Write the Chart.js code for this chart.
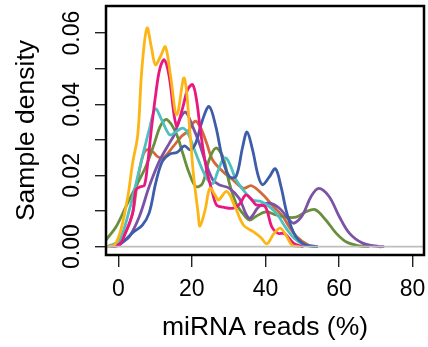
<!DOCTYPE html>
<html>
<head>
<meta charset="utf-8">
<script src="https://cdn.jsdelivr.net/npm/chart.js@4.4.1/dist/chart.umd.min.js"></script>
<style>
  html, body { margin: 0; padding: 0; background: #fff; }
  #wrap { width: 428px; height: 347px; }
</style>
</head>
<body>
<div id="wrap"><canvas id="chart" width="428" height="347"></canvas></div>
<script>
/* ── Data: density curves, [miRNA reads %, density] ── */
const yellow = [[-3,0],[-1,0.0005],[0.7,0.0047],[2.6,0.0141],[3.9,0.0235],[5.3,0.0315],[6.4,0.0497],[7.8,0.0614],[9,0.056],[10.1,0.0511],[11.5,0.0535],[12.8,0.0561],[14.2,0.048],[15.9,0.037],[17.9,0.0474],[19.5,0.0319],[20.4,0.0206],[21.7,0.0094],[22.2,0.0058],[23.6,0.0103],[24.9,0.0164],[26.3,0.0145],[27.2,0.0131],[29.5,0.0155],[31.7,0.0113],[34,0.0061],[36.7,0.0042],[38.8,0.0025],[40.4,0.0008],[42.2,0.0035],[44,0.0052],[45.7,0.003],[47.2,0.0004],[49,0]];
const magenta = [[-3,0],[0.3,0.0005],[2,0.004],[3.9,0.0094],[4.8,0.016],[6,0.0168],[7.1,0.0172],[8,0.0235],[9,0.033],[10.2,0.043],[11.3,0.05],[12.5,0.0525],[13.8,0.048],[15.8,0.034],[17.5,0.039],[18.8,0.044],[20.2,0.0455],[21.3,0.041],[22.4,0.032],[24,0.0216],[25.4,0.016],[26.7,0.0117],[28.5,0.0111],[31.3,0.0108],[33,0.012],[34.6,0.0145],[36,0.0135],[37.4,0.0118],[39.9,0.0113],[41.7,0.0056],[43.3,0.0038],[45.3,0.0036],[47.6,0.001],[50,0]];
const teal = [[-3,0],[0.3,0.0019],[3,0.0103],[5.7,0.0216],[8.4,0.0328],[10.1,0.0387],[11.8,0.0356],[14,0.0314],[15.7,0.0323],[17.5,0.0333],[18.9,0.0319],[20.7,0.0272],[22.5,0.0225],[24.3,0.0188],[25.7,0.0178],[27,0.021],[28.4,0.0244],[29.3,0.0249],[30.6,0.0225],[32,0.0188],[34.7,0.015],[36.5,0.0131],[38.8,0.0127],[41,0.0113],[43.3,0.0089],[45.6,0.0052],[47.8,0.0024],[50.5,0.0005],[53,0]];
const green = [[-3.3,0.0019],[-0.6,0.0056],[2.1,0.0113],[4.8,0.0169],[7.5,0.0225],[9.8,0.029],[11.5,0.034],[13.2,0.0357],[15.7,0.0319],[17.5,0.0263],[19.3,0.0206],[21.1,0.0169],[22.9,0.0178],[24.7,0.0244],[26.5,0.0277],[28.4,0.0253],[30.2,0.0178],[32,0.0122],[33.8,0.0094],[35.6,0.0075],[37.4,0.0085],[40.1,0.0098],[42.9,0.0089],[45.6,0.0083],[48.3,0.0083],[51,0.0098],[53.5,0.0104],[56.4,0.0075],[59.2,0.0038],[61.9,0.0014],[65.5,0.0002],[68,0]];
const purple = [[-3,0],[-0.6,0.0005],[1,0.0012],[3,0.0028],[5.7,0.0084],[8.4,0.0169],[11.1,0.0239],[13.9,0.0291],[15.2,0.0314],[16.8,0.036],[18.3,0.0378],[20.2,0.0338],[22,0.0291],[23.8,0.0235],[25.7,0.0188],[27.4,0.0174],[30.2,0.0164],[32.9,0.0135],[34.7,0.0092],[35.8,0.008],[38.3,0.0113],[41,0.0122],[43.8,0.0108],[46.5,0.0075],[47.8,0.0066],[50.1,0.0089],[52.4,0.0141],[54.5,0.0164],[57.3,0.0141],[60.1,0.0084],[62.8,0.0038],[66.4,0.001],[70.9,0],[72,0]];
const blue = [[-3,0],[0,0.0004],[2,0.002],[4,0.004],[6.5,0.006],[8.4,0.0095],[10.2,0.018],[12,0.024],[14,0.026],[16,0.0265],[18,0.0283],[19.5,0.0272],[21,0.029],[22.9,0.0356],[24.7,0.0394],[26.5,0.0338],[28.4,0.0244],[30.2,0.0197],[32,0.0197],[33.8,0.028],[35,0.0322],[36.5,0.0272],[38,0.02],[39.2,0.0174],[41,0.0195],[42.7,0.0219],[44.2,0.017],[45.6,0.0103],[47,0.0055],[48.3,0.0028],[50,0.001],[52,0.0002],[54,0]];
const brown = [[-3,0],[-0.6,0.0005],[2,0.004],[3.9,0.0094],[5.3,0.0188],[6.6,0.0253],[7.7,0.0272],[9.3,0.0267],[10.7,0.0253],[12.2,0.0249],[14.9,0.0281],[17.2,0.031],[19,0.0325],[20.8,0.0352],[22.2,0.0338],[24,0.0291],[25.6,0.0244],[28.4,0.0211],[31.1,0.0188],[34,0.0164],[36.2,0.0171],[39.4,0.0145],[42.1,0.0113],[44.8,0.0084],[46.5,0.0055],[48.5,0.0028],[51.6,0.0005],[54,0]];

const X_RANGE = [-3.34, 83.1];
const Y_RANGE = [-0.00234, 0.0676];
const X_TICKS = [0, 20, 40, 60, 80];
const Y_TICKS = [0, 0.01, 0.02, 0.03, 0.04, 0.05, 0.06];
const Y_LABELS = [0, 0.02, 0.04, 0.06];

const SERIES = [
  { data: yellow,  color: '#FDB515' },
  { data: magenta, color: '#E9177F' },
  { data: blue,    color: '#3D5DAA' },
  { data: teal,    color: '#4EC0C0' },
  { data: purple,  color: '#7C52A6' },
  { data: green,   color: '#6A8F3A' },
  { data: brown,   color: '#D3693A' },
];

const FONT = '"Liberation Sans", Arial, Helvetica, sans-serif';
const toPts = arr => arr.map(([x, y]) => ({ x, y }));

/* ── R-style box, labels and titles ── */
const rFrame = {
  id: 'rFrame',
  afterDraw(chart) {
    const { ctx, chartArea: a, scales: { x, y } } = chart;
    ctx.save();
    ctx.strokeStyle = '#000';
    ctx.lineWidth = 2.5;
    ctx.strokeRect(a.left, a.top, a.right - a.left, a.bottom - a.top);

    ctx.fillStyle = '#000';
    ctx.textAlign = 'center';
    ctx.textBaseline = 'middle';
    ctx.font = '23px ' + FONT;
    X_TICKS.forEach(v => ctx.fillText(String(v), x.getPixelForValue(v), 290));
    Y_LABELS.forEach(v => {
      ctx.save();
      ctx.translate(73, y.getPixelForValue(v));
      ctx.rotate(-Math.PI / 2);
      ctx.fillText(v.toFixed(2), 0, 0);
      ctx.restore();
    });

    ctx.font = '26.5px ' + FONT;
    ctx.fillText('miRNA reads (%)', (a.left + a.right) / 2, 328);
    ctx.save();
    ctx.translate(27, (a.top + a.bottom) / 2);
    ctx.rotate(-Math.PI / 2);
    ctx.fillText('Sample density', 0, 0);
    ctx.restore();
    ctx.restore();
  }
};

const datasets = SERIES.map((s, i) => ({
  data: toPts(s.data),
  borderColor: s.color,
  borderWidth: 2.8,
  order: i + 1,
}));
// grey zero line across the whole plot
datasets.push({
  data: X_RANGE.map(x => ({ x, y: 0 })),
  borderColor: '#BEBEBE',
  borderWidth: 1.6,
  order: 0,
});

new Chart(document.getElementById('chart'), {
  type: 'line',
  data: { datasets },
  plugins: [rFrame],
  options: {
    responsive: false,
    animation: false,
    layout: { padding: { top: 6, right: 4, left: 0, bottom: 0 } },
    plugins: { legend: { display: false }, tooltip: { enabled: false } },
    elements: {
      point: { radius: 0 },
      line: { tension: 0.35, fill: false, borderJoinStyle: 'round', borderCapStyle: 'round' }
    },
    scales: {
      x: {
        type: 'linear',
        min: X_RANGE[0], max: X_RANGE[1],
        afterFit: s => { s.height = 92; },
        afterBuildTicks: s => { s.ticks = X_TICKS.map(value => ({ value })); },
        border: { display: false },
        grid: { drawOnChartArea: false, tickLength: 12, color: '#222', lineWidth: 1.4 },
        ticks: { display: false }
      },
      y: {
        type: 'linear',
        min: Y_RANGE[0], max: Y_RANGE[1],
        afterFit: s => { s.width = 106; },
        afterBuildTicks: s => { s.ticks = Y_TICKS.map(value => ({ value })); },
        border: { display: false },
        grid: { drawOnChartArea: false, tickLength: 11, color: '#222', lineWidth: 1.4 },
        ticks: { display: false }
      }
    }
  }
});
</script>
</body>
</html>
